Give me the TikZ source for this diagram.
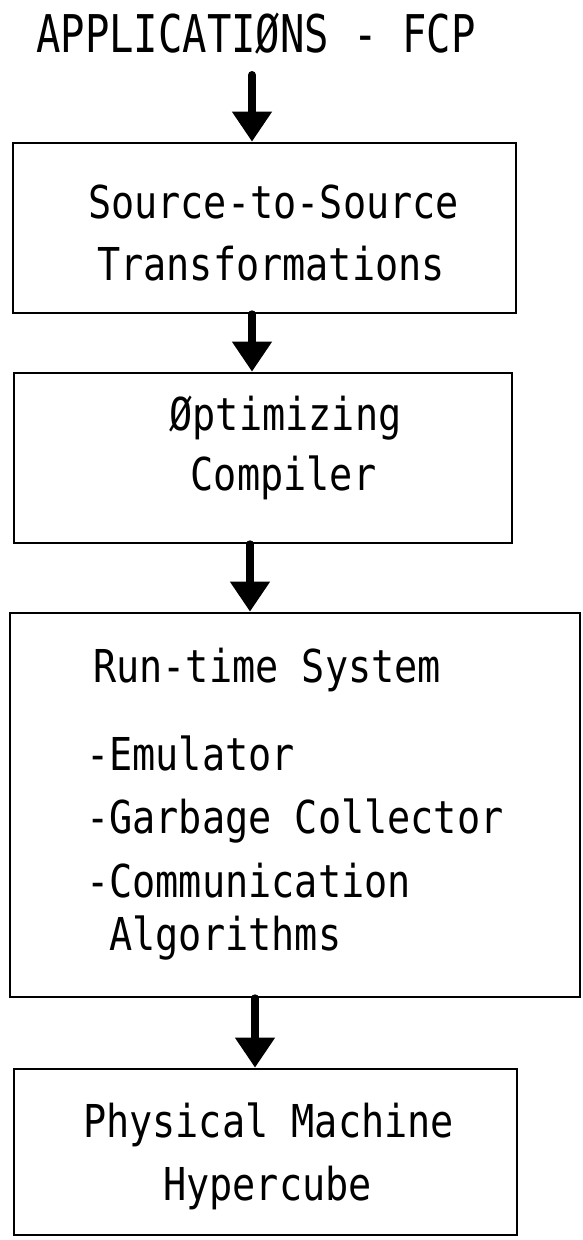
\documentclass[tikz,border=0pt]{standalone}
\usepackage{fontspec}
\setmainfont{DejaVu Sans Mono}[FakeStretch=0.85]
\newfontfamily\headfont{DejaVu Sans Mono}[FakeStretch=0.78]
\usetikzlibrary{arrows.meta}
\begin{document}
\begin{tikzpicture}[x=1pt,y=-1pt,
  layerbox/.style={draw, line width=2.6pt, inner sep=0pt},
  txt/.style={inner sep=0pt, anchor=base, font=\fontsize{45.3}{50}\selectfont},
  txtl/.style={txt, anchor=base west},
  flow/.style={line width=8pt, line cap=round,
    -{Triangle[length=30pt 0 0, width=38pt 0 0]}}]
\useasboundingbox (0,0) rectangle (582,1240);

% title
\node[inner sep=0pt, anchor=base, font=\headfont\fontsize{52}{56}\selectfont]
  (title) at (256,52) {APPLICATIØNS - FCP};

% layer boxes
\node[layerbox, minimum width=503pt, minimum height=170pt] (b1) at (264.5,228) {};
\node[layerbox, minimum width=498pt, minimum height=170pt] (b2) at (263,458) {};
\node[layerbox, minimum width=570pt, minimum height=384pt] (b3) at (295,805) {};
\node[layerbox, minimum width=503pt, minimum height=166pt] (b4) at (265.5,1152) {};

% box texts
\node[txt] (t1a) at (273.5,218) {Source-to-Source};
\node[txt] (t1b) at (271,280) {Transformations};
\node[txt] (t2a) at (285.5,430) {Øptimizing};
\node[txt] (t2b) at (283.5,490) {Compiler};
\node[txtl] (t3a) at (93,682) {Run-time System};
\node[txtl] (t3b) at (86,770) {-Emulator};
\node[txtl] (t3c) at (86,833) {-Garbage Collector};
\node[txtl] (t3d) at (86,897) {-Communication};
\node[txtl] (t3e) at (109.2,950) {Algorithms};
\node[txt] (t4a) at (268.5,1137) {Physical Machine};
\node[txt] (t4b) at (267.5,1200) {Hypercube};

% arrow columns
\coordinate (a0) at (252,75);
\coordinate (x2) at (252,0);
\coordinate (x3) at (250,0);
\coordinate (x4) at (255,0);

% flow arrows
\draw[flow] (a0) -- (a0 |- b1.north);
\draw[flow] (x2 |- b1.south) -- (x2 |- b2.north);
\draw[flow] (x3 |- b2.south) -- (x3 |- b3.north);
\draw[flow] (x4 |- b3.south) -- (x4 |- b4.north);
\end{tikzpicture}
\end{document}
